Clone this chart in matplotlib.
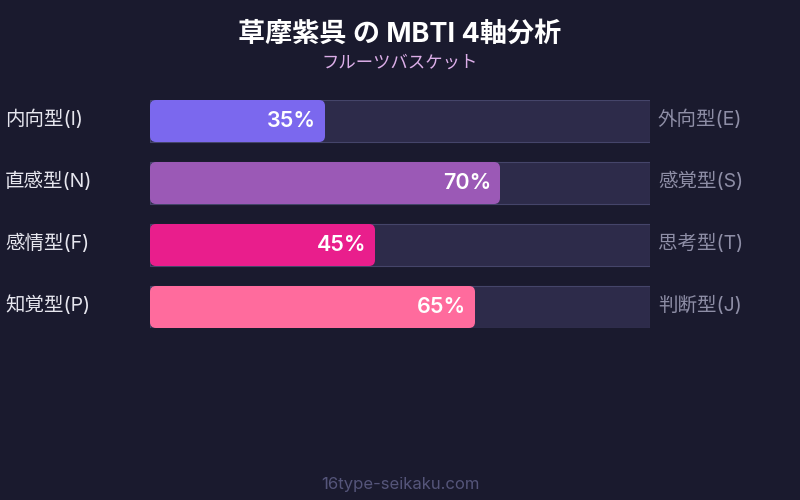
import matplotlib
matplotlib.use("Agg")
import matplotlib.pyplot as plt
from matplotlib.patches import FancyBboxPatch, Rectangle

plt.rcParams["font.family"] = ["Inter", "Noto Sans CJK JP", "DejaVu Sans"]

BG = "#1a1a2e"
TRACK = "#2d2b4a"
TRACK_EDGE = "#45456a"

title = "草摩紫呉 の MBTI 4軸分析"
subtitle = "フルーツバスケット"
footer = "16type-seikaku.com"

left_labels = ["内向型(I)", "直感型(N)", "感情型(F)", "知覚型(P)"]
right_labels = ["外向型(E)", "感覚型(S)", "思考型(T)", "判断型(J)"]
values = [35, 70, 45, 65]
colors = ["#7b68ee", "#9b59b6", "#e91e8c", "#ff6b9d"]

W, H = 800, 500
fig = plt.figure(figsize=(W / 100, H / 100), dpi=100, facecolor=BG)

# bar area: x 150..650 px, y 100..328 px
ax = fig.add_axes([150 / W, 1 - 328 / H, 500 / W, 228 / H])
ax.set_facecolor(BG)
half = 21 / 62
ax.set_xlim(0, 100)
ax.set_ylim(len(values) - 1 + half, -half)
ax.axis("off")

px_x = 100 / 500   # data units per pixel, x
px_y = 1 / 62      # data units per pixel, y
radius = 6 * px_x

for i, (v, c) in enumerate(zip(values, colors)):
    ax.add_patch(Rectangle((0, i - half), 100, 2 * half, facecolor=TRACK,
                           edgecolor=TRACK_EDGE, linewidth=0.8))
    ax.add_patch(FancyBboxPatch((0, i - half), v, 2 * half,
                                boxstyle=f"round,pad=0,rounding_size={radius}",
                                mutation_aspect=px_y / px_x,
                                facecolor=c, edgecolor="none"))
    ax.text(v - 9 * px_x, i, f"{v}%", ha="right", va="center",
            color="white", fontsize=15.5, fontweight="semibold")
    ax.text(-145 * px_x, i - 2 * px_y, left_labels[i], ha="left", va="center",
            color="#e6e6ee", fontsize=14, clip_on=False)
    ax.text(100 + 8 * px_x, i - 2 * px_y, right_labels[i], ha="left", va="center",
            color="#8e8ea6", fontsize=14, clip_on=False)

fig.text(0.5, 1 - 35 / H, title, ha="center", va="center", color="white",
         fontsize=19.5, fontweight="bold")
fig.text(0.5, 1 - 63 / H, subtitle, ha="center", va="center", color="#dcaee8",
         fontsize=12.5)
fig.text(0.5, 1 - 484 / H, footer, ha="center", va="center", color="#55557a",
         fontsize=12)

fig.savefig("out.png", dpi=100, facecolor=BG)
